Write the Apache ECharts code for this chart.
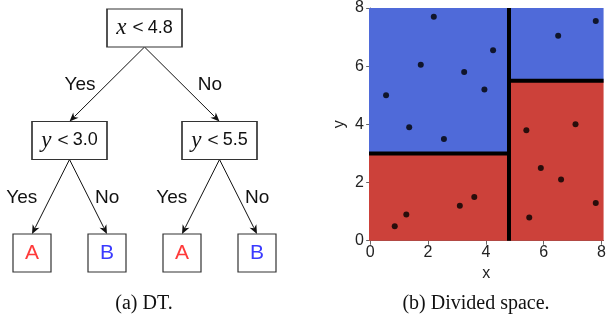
<!DOCTYPE html>
<html><head><meta charset="utf-8">
<script src="https://cdn.jsdelivr.net/npm/echarts@6/dist/echarts.min.js"></script>
<style>html,body{margin:0;padding:0;background:#fff}#c{width:609px;height:334px}</style>
</head><body><div id="c"></div>
<script>
// ---------- Decision tree (a) ----------
const nodeVar       = ['x', 'y', 'y', null, null, null, null];
const nodeThreshold = [4.8, 3.0, 5.5, null, null, null, null];
const nodeClass     = [null, null, null, 'A', 'B', 'A', 'B'];
const nodeCol       = [1.5, 0.5, 2.5, 0, 1, 2, 3];   // layout slot
const nodeLevel     = [0, 1, 1, 2, 2, 2, 2];         // depth
const edgeFrom      = [0, 0, 1, 1, 2, 2];
const edgeTo        = [1, 2, 3, 4, 5, 6];
const edgeText      = ['Yes', 'No', 'Yes', 'No', 'Yes', 'No'];

// ---------- Divided space (b) ----------
const splitX = 4.8, splitYLeft = 3.0, splitYRight = 5.5;
const xMin = -0.04, xMax = 8.07, yMin = 0, yMax = 8;
const xTicks = [0, 2, 4, 6, 8];
const pointsX = [2.2, 4.25, 1.75, 3.25, 3.95, 0.55, 1.35, 2.55, 6.5, 7.8, 5.4, 7.1, 5.9, 6.6, 7.8, 5.5, 0.85, 1.25, 3.1, 3.6];
const pointsY = [7.7, 6.55, 6.05, 5.8, 5.2, 5.0, 3.9, 3.5, 7.05, 7.55, 3.8, 4.0, 2.5, 2.1, 1.3, 0.8, 0.5, 0.9, 1.2, 1.5];

// ---------- styles ----------
const BLUE = '#4f6ad9', RED = '#cc413a';
const SANS = '"Liberation Sans", Arial, Helvetica, sans-serif';
const SERIF = '"Liberation Serif", "Times New Roman", serif';
const innerBox = [75, 38], leafBox = [38, 38];
const edgeLabelDx = [-27, 28, -29, 19, -29, 19];

const nodeData = nodeCol.map((c, i) => ({
  value: [c, nodeLevel[i]],
  symbolSize: nodeClass[i] ? leafBox : innerBox,
  idx: i
}));
const edgeData = edgeFrom.map((f, i) => [nodeCol[f], nodeLevel[f], nodeCol[edgeTo[i]], nodeLevel[edgeTo[i]], i]);

const regionData = [
  [xMin, yMin, splitX, splitYLeft, 0],
  [xMin, splitYLeft, splitX, yMax, 1],
  [splitX, yMin, xMax, splitYRight, 0],
  [splitX, splitYRight, xMax, yMax, 1]
];
const splitData = [
  [splitX, yMin, splitX, yMax],
  [xMin, splitYLeft, splitX, splitYLeft],
  [splitX, splitYRight, xMax, splitYRight]
];
const pointData = pointsX.map((x, i) => [x, pointsY[i]]);

const chart = echarts.init(document.getElementById('c'), null, {renderer: 'canvas'});
chart.setOption({
  animation: false,
  backgroundColor: '#fff',
  grid: [
    {left: 32, top: 28, width: 225, height: 225},
    {left: 369, top: 8, width: 238, height: 232.7}
  ],
  xAxis: [
    {gridIndex: 0, type: 'value', min: 0, max: 3, show: false},
    {gridIndex: 1, type: 'value', min: xMin, max: xMax,
     axisLine: {show: true, lineStyle: {color: '#666', width: 1}},
     axisTick: {show: true, customValues: xTicks, length: 4, lineStyle: {color: '#666'}},
     axisLabel: {customValues: xTicks, fontSize: 16, color: '#222', fontFamily: SANS, margin: 4},
     splitLine: {show: false},
     name: 'x', nameLocation: 'middle', nameGap: 23,
     nameTextStyle: {fontSize: 16, color: '#222', fontFamily: SANS}}
  ],
  yAxis: [
    {gridIndex: 0, type: 'value', min: 0, max: 2, inverse: true, show: false},
    {gridIndex: 1, type: 'value', min: yMin, max: yMax, interval: 2,
     axisLine: {show: true, lineStyle: {color: '#666', width: 1}},
     axisTick: {show: true, length: 4, lineStyle: {color: '#666'}},
     axisLabel: {fontSize: 16, color: '#222', fontFamily: SANS, margin: 5},
     splitLine: {show: false},
     name: 'y', nameLocation: 'middle', nameGap: 21,
     nameTextStyle: {fontSize: 16, color: '#222', fontFamily: SANS}}
  ],
  series: [
    // tree edges with arrows and Yes/No labels
    {
      type: 'custom', xAxisIndex: 0, yAxisIndex: 0, data: edgeData, silent: true,
      renderItem(params, api) {
        const i = api.value(4);
        const p0 = api.coord([api.value(0), api.value(1)]);
        const p1 = api.coord([api.value(2), api.value(3)]);
        const childLeaf = nodeClass[edgeTo[i]] != null;
        const start = [p0[0], p0[1] + innerBox[1] / 2];
        const end = [p1[0], p1[1] - (childLeaf ? leafBox[1] : innerBox[1]) / 2];
        const dx = end[0] - start[0], dy = end[1] - start[1];
        const len = Math.sqrt(dx * dx + dy * dy);
        const ux = dx / len, uy = dy / len, nx = -uy, ny = ux;
        const aL = 9, aW = 3.8;
        const base = [end[0] - ux * aL, end[1] - uy * aL];
        const mid = [(start[0] + end[0]) / 2, (start[1] + end[1]) / 2];
        return {type: 'group', children: [
          {type: 'line', shape: {x1: start[0], y1: start[1], x2: base[0] + ux * 2, y2: base[1] + uy * 2},
           style: {stroke: '#111', lineWidth: 1}},
          {type: 'polygon', shape: {points: [end, [base[0] + nx * aW, base[1] + ny * aW], [base[0] + ux * 2.5, base[1] + uy * 2.5], [base[0] - nx * aW, base[1] - ny * aW]]},
           style: {fill: '#111'}},
          {type: 'text', x: mid[0] + edgeLabelDx[i], y: mid[1] + 1,
           style: {text: edgeText[i], fill: '#111', font: '19px ' + SANS, align: 'center', verticalAlign: 'middle'}}
        ]};
      }
    },
    // tree nodes
    {
      type: 'scatter', xAxisIndex: 0, yAxisIndex: 0, symbol: 'rect', data: nodeData, silent: true,
      itemStyle: {color: '#fff', borderColor: '#333', borderWidth: 1.2, opacity: 1},
      z: 5,
      label: {
        show: true, position: 'inside',
        formatter(p) {
          const i = p.data.idx;
          if (nodeClass[i]) return '{' + nodeClass[i] + '|' + nodeClass[i] + '}';
          return '{v|' + nodeVar[i] + '}{op|<}{num|' + nodeThreshold[i].toFixed(1) + '}';
        },
        rich: {
          v: {fontFamily: SERIF, fontStyle: 'italic', fontSize: 23, color: '#111', padding: [0, 6, 0, 0]},
          op: {fontFamily: SANS, fontSize: 19, color: '#111', padding: [0, 4, 0, 0]},
          num: {fontFamily: SANS, fontSize: 18, color: '#111'},
          A: {fontFamily: SANS, fontSize: 21, color: '#ff3a3a'},
          B: {fontFamily: SANS, fontSize: 21, color: '#3a3aff'}
        }
      }
    },
    // coloured regions
    {
      type: 'custom', xAxisIndex: 1, yAxisIndex: 1, data: regionData, silent: true, z: 1,
      renderItem(params, api) {
        const a = api.coord([api.value(0), api.value(3)]);
        const b = api.coord([api.value(2), api.value(1)]);
        return {type: 'rect', shape: {x: a[0], y: a[1], width: b[0] - a[0], height: b[1] - a[1]},
          style: {fill: api.value(4) === 1 ? BLUE : RED}};
      }
    },
    // split lines
    {
      type: 'custom', xAxisIndex: 1, yAxisIndex: 1, data: splitData, silent: true, z: 3,
      renderItem(params, api) {
        const a = api.coord([api.value(0), api.value(1)]);
        const b = api.coord([api.value(2), api.value(3)]);
        return {type: 'line', shape: {x1: a[0], y1: a[1], x2: b[0], y2: b[1]},
          style: {stroke: '#000', lineWidth: 4, lineCap: 'butt'}};
      }
    },
    // points
    {
      type: 'scatter', xAxisIndex: 1, yAxisIndex: 1, data: pointData, symbolSize: 6, silent: true, z: 4,
      itemStyle: {color: '#000'}
    }
  ],
  graphic: [
    {type: 'text', x: 144, y: 304, style: {text: '(a) DT.', font: '20px ' + SERIF, fill: '#111', align: 'center', verticalAlign: 'middle'}},
    {type: 'text', x: 476, y: 304, style: {text: '(b) Divided space.', font: '20px ' + SERIF, fill: '#111', align: 'center', verticalAlign: 'middle'}}
  ]
});
</script>
</body></html>
